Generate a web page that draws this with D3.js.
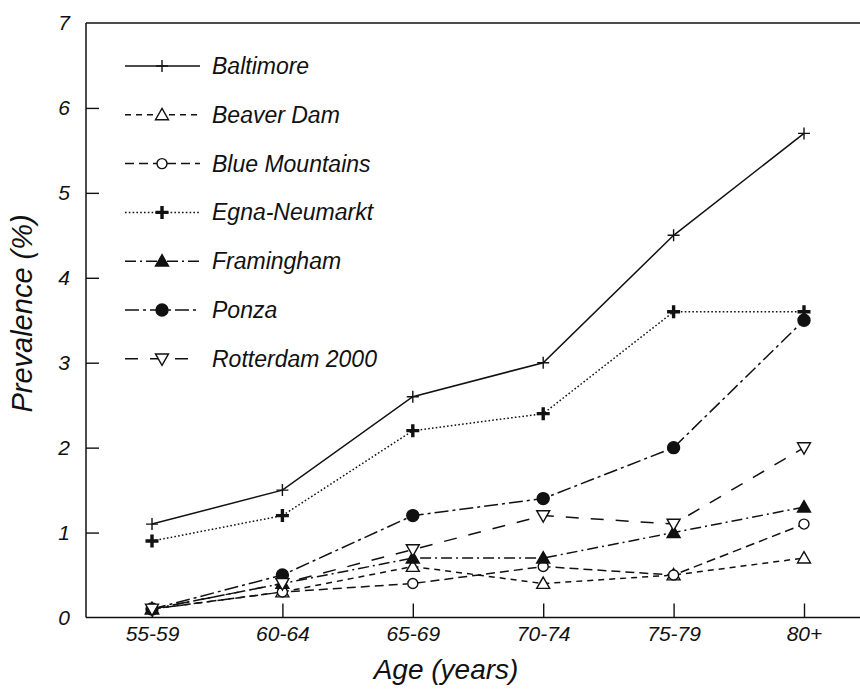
<!DOCTYPE html>
<meta charset="utf-8">
<title>Prevalence by age</title>
<style>
  body { margin: 0; background: #fff; }
  text { font-family: "Liberation Sans", Arial, sans-serif; font-style: italic; fill: #111; }
  .axis text { font-size: 21px; }
  .axis line, .axis path { stroke: #111; stroke-width: 1.4; }
</style>
<body>
<svg width="860" height="690"></svg>
<script src="https://cdn.jsdelivr.net/npm/d3@7"></script>
<script>
// age groups
const ages = ["55-59", "60-64", "65-69", "70-74", "75-79", "80+"];
const yTicks = [0, 1, 2, 3, 4, 5, 6, 7];

// prevalence (%) per study
const baltimore   = [1.1, 1.5, 2.6, 3.0, 4.5, 5.7];
const beaverDam   = [0.1, 0.3, 0.6, 0.4, 0.5, 0.7];
const blueMount   = [0.1, 0.3, 0.4, 0.6, 0.5, 1.1];
const egna        = [0.9, 1.2, 2.2, 2.4, 3.6, 3.6];
const framingham  = [0.1, 0.4, 0.7, 0.7, 1.0, 1.3];
const ponza       = [0.1, 0.5, 1.2, 1.4, 2.0, 3.5];
const rotterdam   = [0.1, 0.4, 0.8, 1.2, 1.1, 2.0];

const series = [
  {name: "Baltimore",      values: baltimore,  dash: null,          mark: "plus"},
  {name: "Beaver Dam",     values: beaverDam,  dash: "6,5",         mark: "triUpOpen"},
  {name: "Blue Mountains", values: blueMount,  dash: "9,5",         mark: "circleOpen"},
  {name: "Egna-Neumarkt",  values: egna,       dash: "1.6,2.2",     mark: "plusBold"},
  {name: "Framingham",     values: framingham, dash: "11,4,2,4",    mark: "triUp"},
  {name: "Ponza",          values: ponza,      dash: "14,4,3,4",    mark: "circle"},
  {name: "Rotterdam 2000", values: rotterdam,  dash: "13,12",       mark: "triDownOpen"}
];

const svg = d3.select("svg");
const mLeft = 86, mRight = 860, mTop = 23, mBottom = 617.5;

const x = d3.scalePoint().domain(ages).range([152, 804]);
const y = d3.scaleLinear().domain([0, 7]).range([mBottom, mTop]);

// frame: left, top, bottom
svg.append("line").attr("x1", mLeft).attr("x2", mLeft).attr("y1", mTop).attr("y2", mBottom)
  .attr("stroke", "#111").attr("stroke-width", 1.5);
svg.append("line").attr("x1", mLeft).attr("x2", mRight).attr("y1", mTop).attr("y2", mTop)
  .attr("stroke", "#111").attr("stroke-width", 1.5);
svg.append("line").attr("x1", mLeft).attr("x2", mRight).attr("y1", mBottom).attr("y2", mBottom)
  .attr("stroke", "#111").attr("stroke-width", 1.5);

// axes, ticks point inward
const yAxis = svg.append("g").attr("class", "axis")
  .attr("transform", `translate(${mLeft},0)`)
  .call(d3.axisLeft(y).tickValues(yTicks).tickFormat(d3.format("d"))
    .tickSizeInner(-13).tickSizeOuter(0).tickPadding(16));
yAxis.select(".domain").remove();
yAxis.selectAll(".tick").filter(d => d === 0 || d === 7).select("line").remove();

const xAxis = svg.append("g").attr("class", "axis")
  .attr("transform", `translate(0,${mBottom})`)
  .call(d3.axisBottom(x).tickSizeInner(-14).tickSizeOuter(0).tickPadding(9));
xAxis.select(".domain").remove();

// axis titles
svg.append("text").attr("x", 446).attr("y", 679)
  .attr("text-anchor", "middle").attr("font-size", 28).text("Age (years)");
svg.append("text").attr("transform", `translate(32,${y(3.58)}) rotate(-90)`)
  .attr("text-anchor", "middle").attr("font-size", 29).text("Prevalence (%)");

// marker drawing
function drawMark(g, type, cx, cy) {
  if (type === "plus") {
    g.append("path").attr("d", `M${cx - 6},${cy}H${cx + 6}M${cx},${cy - 6}V${cy + 6}`)
      .attr("stroke", "#111").attr("stroke-width", 1.4).attr("fill", "none");
  } else if (type === "plusBold") {
    g.append("path").attr("d", `M${cx - 6.5},${cy}H${cx + 6.5}M${cx},${cy - 6.5}V${cy + 6.5}`)
      .attr("stroke", "#111").attr("stroke-width", 3.4).attr("fill", "none");
  } else if (type === "circle" || type === "circleOpen") {
    const open = type === "circleOpen";
    g.append("circle").attr("cx", cx).attr("cy", cy).attr("r", open ? 5 : 6)
      .attr("fill", open ? "#fff" : "#111").attr("stroke", "#111").attr("stroke-width", 1.4);
  } else {
    const down = type === "triDownOpen";
    const open = type !== "triUp";
    const s = 6.5, sgn = down ? -1 : 1;
    g.append("path")
      .attr("d", `M${cx},${cy - sgn * s}L${cx + s},${cy + sgn * s * 0.75}L${cx - s},${cy + sgn * s * 0.75}Z`)
      .attr("fill", open ? "#fff" : "#111").attr("stroke", "#111").attr("stroke-width", 1.4);
  }
}

const line = d3.line().x((d, i) => x(ages[i])).y(d => y(d));

const plot = svg.append("g");
series.forEach(s => {
  plot.append("path").datum(s.values).attr("d", line)
    .attr("fill", "none").attr("stroke", "#111").attr("stroke-width", 1.5)
    .attr("stroke-dasharray", s.dash);
});
series.forEach(s => {
  const g = plot.append("g");
  s.values.forEach((v, i) => drawMark(g, s.mark, x(ages[i]), y(v)));
});

// legend
const legend = svg.append("g");
series.forEach((s, i) => {
  const ly = 66 + i * 48.8;
  const g = legend.append("g");
  g.append("line").attr("x1", 125).attr("x2", 200).attr("y1", ly).attr("y2", ly)
    .attr("stroke", "#111").attr("stroke-width", 1.5).attr("stroke-dasharray", s.dash);
  drawMark(g, s.mark, 162, ly);
  g.append("text").attr("x", 212).attr("y", ly + 8).attr("font-size", 23).text(s.name);
});
</script>
</body>
